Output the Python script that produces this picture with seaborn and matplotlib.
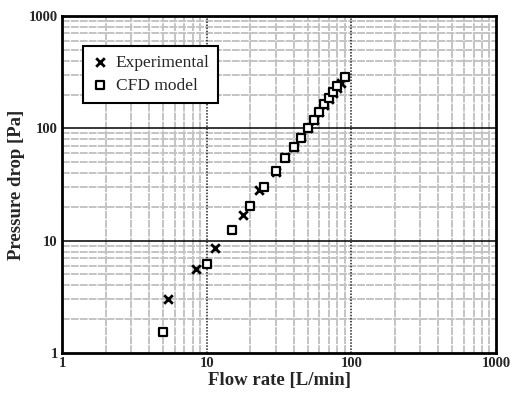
import matplotlib
matplotlib.use("Agg")
import matplotlib.pyplot as plt
import seaborn as sns
import pandas as pd
from matplotlib.ticker import LogLocator, FixedLocator, NullFormatter, FixedFormatter

exp_flow = [5.4, 8.4, 11.4, 17.8, 23, 30, 35, 40, 45, 50, 55, 60, 65, 70, 75, 80, 85]
exp_dp = [3.0, 5.6, 8.6, 17, 28, 41, 55, 68, 83, 100, 118, 140, 160, 183, 205, 230, 255]
cfd_flow = [5, 10, 15, 20, 25, 30, 35, 40, 45, 50, 55, 60, 65, 70, 75, 80, 90]
cfd_dp = [1.55, 6.2, 12.5, 20.5, 30, 42, 54, 68, 82, 100, 118, 140, 163, 185, 210, 240, 285]
tick_vals = [1, 10, 100, 1000]
tick_labels = ["1", "10", "100", "1000"]

sns.set_style("white")
plt.rcParams['font.family'] = ['Liberation Serif', 'DejaVu Serif']

fig = plt.figure(figsize=(5.12, 3.99), dpi=100)
ax = fig.add_axes([62/512, 1-353/399, (496-62)/512, (353-16)/399])

df_exp = pd.DataFrame({"x": exp_flow, "y": exp_dp})
df_cfd = pd.DataFrame({"x": cfd_flow, "y": cfd_dp})

ax.set_xscale("log")
ax.set_yscale("log")
ax.set_xlim(1, 1000)
ax.set_ylim(1, 1000)

# grid
ax.xaxis.set_minor_locator(LogLocator(base=10, subs=range(2, 10)))
ax.yaxis.set_minor_locator(LogLocator(base=10, subs=range(2, 10)))
ax.grid(True, which="minor", color="#c4c4c4", linewidth=1.4, linestyle=(0, (4, 0.6)))
ax.set_axisbelow(True)
for v in [10, 100]:
    ax.axvline(v, color="#222222", linewidth=1.1, linestyle=(0, (1, 1)), zorder=1)
    ax.axhline(v, color="black", linewidth=1.1, zorder=1)

sns.scatterplot(data=df_exp, x="x", y="y", marker="x", color="black", s=38,
                linewidth=2.0, ax=ax, label="Experimental", zorder=3)
sns.scatterplot(data=df_cfd, x="x", y="y", marker="s", facecolor="white",
                edgecolor="black", s=40, linewidth=1.6, ax=ax, label="CFD model", zorder=3)

ax.xaxis.set_major_locator(FixedLocator(tick_vals))
ax.xaxis.set_major_formatter(FixedFormatter(tick_labels))
ax.yaxis.set_major_locator(FixedLocator(tick_vals))
ax.yaxis.set_major_formatter(FixedFormatter(tick_labels))
ax.xaxis.set_minor_formatter(NullFormatter())
ax.yaxis.set_minor_formatter(NullFormatter())
ax.tick_params(axis="both", which="major", direction="in", length=5, width=1.2,
               labelsize=10.5, pad=3)
ax.tick_params(axis="both", which="minor", direction="in", length=3, width=0.8)
for lbl in ax.get_xticklabels() + ax.get_yticklabels():
    lbl.set_fontweight("bold")

for sp in ax.spines.values():
    sp.set_color("black")
    sp.set_linewidth(2.0)

ax.set_xlabel("Flow rate [L/min]", fontsize=13.5, fontweight="bold", labelpad=1)
ax.set_ylabel("Pressure drop [Pa]", fontsize=13.5, fontweight="bold", labelpad=3)

leg = ax.legend(loc="upper left", bbox_to_anchor=(0.048, 0.911), borderaxespad=0,
                frameon=True, fancybox=False, edgecolor="black", framealpha=1,
                fontsize=12.5, handletextpad=0.4, borderpad=0.5, labelspacing=0.4,
                handlelength=1.0)
leg.get_frame().set_linewidth(1.5)

fig.savefig("out.png", dpi=100)
